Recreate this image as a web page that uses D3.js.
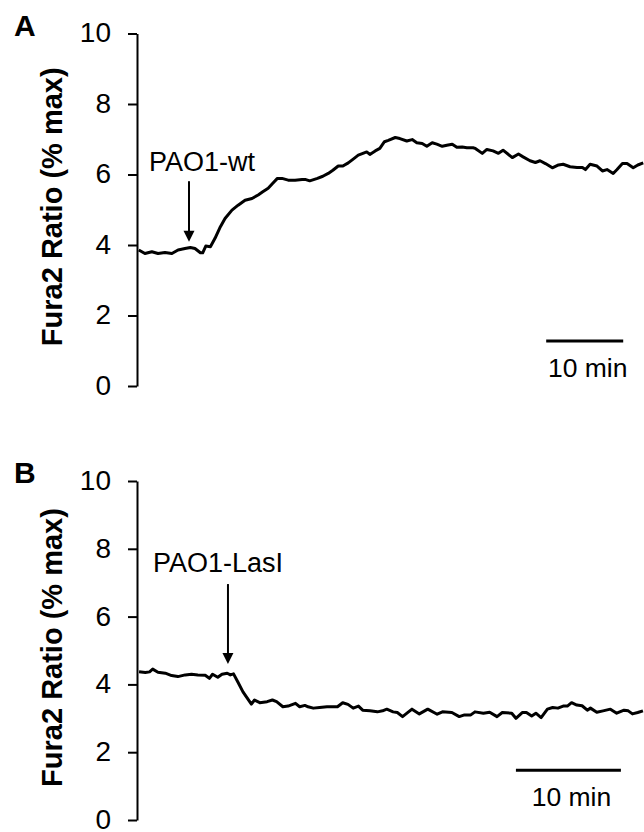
<!DOCTYPE html>
<html>
<head>
<meta charset="utf-8">
<script src="https://cdn.jsdelivr.net/npm/d3@7"></script>
<style>
  body { margin: 0; background: #fff; }
  svg { display: block; font-family: "Liberation Sans", Arial, sans-serif; }
</style>
</head>
<body>
<div id="chart"></div>
<script>
// panel A: PAO1-wt (time in min, Fura2 ratio)
var timeA = [0.1, 0.9, 1.8, 2.6, 3.5, 4.4, 5.2, 6.1, 6.8, 7.4, 8.1, 8.4, 8.8, 9.4, 10.0, 10.7, 11.3, 12.2, 13.0, 13.9,
  14.8, 15.6, 16.2, 16.9, 17.5, 18.1, 18.7, 19.5, 20.4, 21.3, 21.7, 22.3, 23.3, 24.0, 24.7, 25.3, 26.0, 26.6, 27.3, 27.9,
  28.6, 29.2, 29.7, 30.1, 30.8, 31.4, 32.0, 32.5, 33.4, 34.0, 34.9, 35.6, 36.2, 36.9, 37.5, 38.2, 38.8, 39.5, 40.1, 40.8,
  41.4, 42.1, 42.7, 43.5, 43.8, 44.7, 45.3, 46.1, 46.8, 47.4, 48.6, 49.4, 50.0, 50.9, 51.6, 52.2, 52.9, 53.8, 54.6, 55.2,
  56.1, 57.0, 57.7, 58.1, 58.7, 59.6, 60.3, 60.9, 61.7, 62.2, 62.9, 63.5, 64.3, 64.9, 65.6];
var ratioA = [3.86, 3.76, 3.81, 3.76, 3.79, 3.76, 3.86, 3.90, 3.93, 3.90, 3.78, 3.78, 3.97, 3.95, 4.19, 4.52, 4.75, 4.99, 5.13, 5.27,
  5.32, 5.42, 5.51, 5.61, 5.75, 5.89, 5.89, 5.84, 5.84, 5.86, 5.86, 5.82, 5.89, 5.95, 6.03, 6.12, 6.24, 6.24, 6.33, 6.43,
  6.55, 6.60, 6.64, 6.57, 6.67, 6.74, 6.93, 6.97, 7.05, 7.02, 6.95, 6.99, 6.90, 6.88, 6.80, 6.90, 6.86, 6.80, 6.83, 6.86,
  6.77, 6.78, 6.76, 6.76, 6.74, 6.60, 6.71, 6.67, 6.60, 6.69, 6.48, 6.58, 6.50, 6.39, 6.34, 6.39, 6.31, 6.19, 6.27, 6.29,
  6.22, 6.20, 6.20, 6.14, 6.29, 6.24, 6.10, 6.14, 6.03, 6.14, 6.31, 6.31, 6.19, 6.27, 6.33];

// panel B: PAO1-LasI
var timeB = [0.1, 0.7, 1.1, 1.4, 1.9, 2.6, 3.2, 3.8, 4.5, 5.1, 5.7, 6.4, 6.8, 7.1, 7.6, 8.0, 8.5, 8.8, 9.1, 9.5,
  10.0, 10.8, 11.1, 11.6, 12.3, 12.8, 13.2, 13.8, 14.3, 15.0, 15.4, 15.9, 16.2, 16.7, 17.3, 18.0, 18.6, 19.0, 19.5, 20.0,
  20.5, 21.0, 21.4, 22.1, 22.8, 23.3, 23.7, 24.3, 24.7, 25.2, 26.1, 26.8, 27.6, 28.5, 29.0, 29.9, 30.6, 31.1, 31.7, 32.1,
  32.9, 33.5, 34.2, 34.7, 35.6, 36.0, 36.6, 37.0, 37.5, 37.9, 38.4, 39.0, 39.5, 40.0, 40.5, 40.9, 41.3, 41.8, 42.3, 42.8,
  43.1, 43.7, 44.3, 45.0, 45.6, 46.3, 46.7, 47.1, 47.6, 48.1];
var ratioB = [4.37, 4.35, 4.37, 4.45, 4.36, 4.33, 4.26, 4.23, 4.28, 4.30, 4.28, 4.27, 4.18, 4.30, 4.21, 4.30, 4.33, 4.28, 4.31, 4.08,
  3.78, 3.42, 3.54, 3.46, 3.49, 3.54, 3.49, 3.34, 3.36, 3.44, 3.34, 3.38, 3.34, 3.30, 3.32, 3.34, 3.34, 3.34, 3.46, 3.41,
  3.30, 3.36, 3.24, 3.22, 3.19, 3.22, 3.27, 3.19, 3.17, 3.05, 3.27, 3.13, 3.27, 3.12, 3.19, 3.17, 3.05, 3.10, 3.10, 3.19,
  3.15, 3.18, 3.05, 3.17, 3.15, 3.00, 3.17, 3.17, 3.07, 3.15, 3.02, 3.27, 3.32, 3.30, 3.36, 3.36, 3.46, 3.39, 3.37, 3.24,
  3.30, 3.18, 3.22, 3.27, 3.15, 3.24, 3.22, 3.13, 3.17, 3.22];

var yTicks = [0, 2, 4, 6, 8, 10];

var svg = d3.select("#chart")
  .append("svg")
    .attr("width", 644)
    .attr("height", 832);

function drawPanel(p) {
  var x = d3.scaleLinear().domain([0, p.tMax]).range([138, 644]);
  var y = d3.scaleLinear().domain([0, 10]).range([p.y0, p.y10]);
  var g = svg.append("g");

  // y axis
  var ax = g.append("g")
    .attr("transform", "translate(137,0)")
    .call(d3.axisLeft(y).tickValues(yTicks).tickSize(9).tickSizeOuter(0).tickPadding(17));
  ax.select(".domain").attr("stroke", "#000").attr("stroke-width", 2);
  ax.selectAll(".tick line").attr("stroke", "#000").attr("stroke-width", 2);
  ax.selectAll(".tick text")
    .attr("font-family", "Liberation Sans, Arial, sans-serif")
    .attr("font-size", "28px")
    .attr("dy", "0.3em")
    .attr("fill", "#000");

  // axis title
  g.append("text")
    .attr("transform", "translate(62," + ((p.y0 + p.y10) / 2 - 3) + ") rotate(-90)")
    .attr("text-anchor", "middle")
    .attr("font-size", "29px")
    .attr("font-weight", "bold")
    .text("Fura2 Ratio (% max)");

  // panel letter
  g.append("text")
    .attr("x", 14)
    .attr("y", p.letterY)
    .attr("font-size", "30px")
    .attr("font-weight", "bold")
    .text(p.letter);

  // trace
  var pts = p.t.map(function(d, i) { return [d, p.v[i]]; });
  g.append("path")
    .datum(pts)
    .attr("fill", "none")
    .attr("stroke", "#000")
    .attr("stroke-width", 3)
    .attr("stroke-linejoin", "round")
    .attr("d", d3.line().x(function(d) { return x(d[0]); }).y(function(d) { return y(d[1]); }));

  // arrow + label
  var ax0 = x(p.arrowT);
  g.append("line")
    .attr("x1", ax0).attr("x2", ax0)
    .attr("y1", y(p.arrowTop)).attr("y2", y(p.arrowTip) - 9)
    .attr("stroke", "#000").attr("stroke-width", 2);
  g.append("path")
    .attr("d", "M" + (ax0 - 5.5) + "," + (y(p.arrowTip) - 11) + "L" + (ax0 + 5.5) + "," + (y(p.arrowTip) - 11) + "L" + ax0 + "," + y(p.arrowTip) + "Z")
    .attr("fill", "#000");
  g.append("text")
    .attr("x", p.labelX)
    .attr("y", y(p.labelV))
    .attr("font-size", "27px")
    .text(p.label);

  // scale bar
  g.append("line")
    .attr("x1", x(p.barT)).attr("x2", x(p.barT + 10))
    .attr("y1", y(p.barV)).attr("y2", y(p.barV))
    .attr("stroke", "#000").attr("stroke-width", 3);
  g.append("text")
    .attr("x", (x(p.barT) + x(p.barT + 10)) / 2 + 3)
    .attr("y", y(p.barV) + 36)
    .attr("text-anchor", "middle")
    .attr("font-size", "26.5px")
    .text("10 min");
}

drawPanel({
  t: timeA, v: ratioA, tMax: 65.7, y0: 386, y10: 33.5,
  letter: "A", letterY: 36,
  arrowT: 6.62, arrowTop: 5.81, arrowTip: 4.09,
  label: "PAO1-wt", labelX: 149, labelV: 6.1,
  barT: 53.0, barV: 1.28
});

drawPanel({
  t: timeB, v: ratioB, tMax: 48.2, y0: 820, y10: 481,
  letter: "B", letterY: 483,
  arrowT: 8.57, arrowTop: 6.96, arrowTip: 4.6,
  label: "PAO1-LasI", labelX: 153, labelV: 7.316,
  barT: 36.0, barV: 1.47
});
</script>
</body>
</html>
